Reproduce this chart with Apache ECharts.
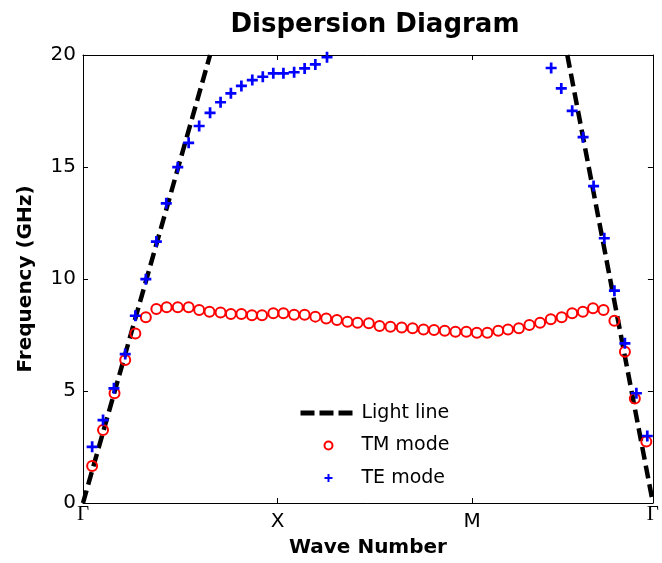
<!DOCTYPE html>
<html>
<head>
<meta charset="utf-8">
<script src="https://cdn.jsdelivr.net/npm/echarts@6/dist/echarts.min.js"></script>
<style>html,body{margin:0;padding:0;background:#fff;}#chart{width:662px;height:563px;}</style>
</head>
<body>
<div id="chart"></div>
<script>
// Wave-number positions (Γ=0, X=1, M=2, Γ=2.929) and frequencies (GHz)
const tickPositions = [0, 1, 2, 2.929];
const tickNames = ['Γ', 'X', 'M', 'Γ'];
const yTicks = [0, 5, 10, 15, 20];

const lightLeftK = [0, 0.653];
const lightLeftF = [0, 20];
const lightRightK = [2.489, 2.929];
const lightRightF = [20, 0];

const tmK = [0.047, 0.103, 0.162, 0.217, 0.269, 0.323, 0.377, 0.430, 0.487, 0.543,
  0.597, 0.650, 0.707, 0.760, 0.814, 0.868, 0.920, 0.978, 1.030, 1.085,
  1.139, 1.194, 1.250, 1.305, 1.359, 1.411, 1.469, 1.524, 1.580, 1.638,
  1.694, 1.750, 1.804, 1.859, 1.914, 1.970, 2.024, 2.078, 2.134, 2.184,
  2.240, 2.294, 2.349, 2.404, 2.460, 2.514, 2.569, 2.621, 2.675, 2.731,
  2.785, 2.836, 2.895];
const tmF = [1.65, 3.26, 4.90, 6.38, 7.57, 8.29, 8.66, 8.74, 8.74, 8.74,
  8.62, 8.54, 8.50, 8.44, 8.44, 8.38, 8.38, 8.47, 8.47, 8.40,
  8.40, 8.32, 8.24, 8.17, 8.09, 8.05, 8.02, 7.90, 7.87, 7.84,
  7.80, 7.75, 7.72, 7.69, 7.65, 7.65, 7.60, 7.60, 7.69, 7.75,
  7.80, 7.95, 8.05, 8.20, 8.29, 8.47, 8.54, 8.69, 8.62, 8.14,
  6.75, 4.67, 2.74];

const teK = [0.047, 0.103, 0.159, 0.217, 0.269, 0.323, 0.377, 0.428, 0.487, 0.543,
  0.597, 0.653, 0.707, 0.760, 0.814, 0.870, 0.924, 0.978, 1.030, 1.085,
  1.139, 1.194, 1.254,
  2.406, 2.458, 2.514, 2.570, 2.624, 2.679, 2.731, 2.785, 2.844, 2.900];
const teF = [2.51, 3.70, 5.12, 6.65, 8.36, 9.99, 11.67, 13.38, 14.99, 16.08,
  16.83, 17.42, 17.89, 18.29, 18.62, 18.88, 19.03, 19.18, 19.18, 19.23,
  19.40, 19.58, 19.90,
  19.42, 18.51, 17.51, 16.33, 14.15, 11.82, 9.48, 7.13, 4.90, 2.99];

const zip = (a, b) => a.map((v, i) => [v, b[i]]);
const FONT = 'DejaVu Sans';
const plusPath = 'path://M4,0H6.6V4H10.6V6.6H6.6V10.6H4V6.6H0V4H4Z';
const xMin = tickPositions[0], xMax = tickPositions[tickPositions.length - 1];
const nameAt = v => {
  let best = 0;
  tickPositions.forEach((p, i) => { if (Math.abs(p - v) < Math.abs(tickPositions[best] - v)) best = i; });
  return tickNames[best];
};

const chart = echarts.init(document.getElementById('chart'), null, {renderer: 'canvas'});
chart.setOption({
  animation: false,
  backgroundColor: '#ffffff',
  title: {
    text: 'Dispersion Diagram', left: 370, top: 7, textAlign: 'center',
    textStyle: {fontFamily: FONT, fontWeight: 'bold', fontSize: 26, color: '#000'}
  },
  grid: {left: 83, right: 2, top: 55, bottom: 60, containLabel: false},
  legend: {
    orient: 'vertical', left: 293, top: 397, itemWidth: 56, itemHeight: 8, itemGap: 10.5,
    data: [
      {name: 'Light line', itemStyle: {opacity: 0}, lineStyle: {width: 5, type: [14, 5], color: '#000'}},
      {name: 'TM mode'},
      {name: 'TE mode'}
    ],
    textStyle: {fontFamily: FONT, fontSize: 19, color: '#000', lineHeight: 22},
    selectedMode: false
  },
  xAxis: [
    {
      type: 'value', position: 'bottom', min: xMin, max: xMax,
      name: 'Wave Number', nameLocation: 'middle', nameGap: 35,
      nameTextStyle: {fontFamily: FONT, fontWeight: 'bold', fontSize: 20, color: '#000'},
      axisLine: {onZero: false, lineStyle: {color: '#000', width: 1}},
      axisTick: {inside: true, length: 5, customValues: tickPositions, lineStyle: {color: '#000'}},
      axisLabel: {customValues: tickPositions.slice(1, 3), formatter: nameAt, margin: 9,
        fontFamily: FONT, fontSize: 20, color: '#000'},
      splitLine: {show: false}
    },
    {
      type: 'value', position: 'top', min: xMin, max: xMax,
      axisLine: {onZero: false, lineStyle: {color: '#000', width: 1}},
      axisTick: {inside: true, length: 5, customValues: tickPositions, lineStyle: {color: '#000'}},
      axisLabel: {show: false}, splitLine: {show: false}
    },
    {
      type: 'value', position: 'bottom', min: xMin, max: xMax,
      axisLine: {show: false}, axisTick: {show: false}, splitLine: {show: false},
      axisLabel: {customValues: [tickPositions[0], tickPositions[3]], formatter: nameAt, margin: 1,
        fontFamily: 'Liberation Serif', fontSize: 21, color: '#000', showMinLabel: true, showMaxLabel: true}
    }
  ],
  yAxis: [
    {
      type: 'value', position: 'left', min: yTicks[0], max: yTicks[yTicks.length - 1], interval: 5,
      name: 'Frequency (GHz)', nameLocation: 'middle', nameGap: 47,
      nameTextStyle: {fontFamily: FONT, fontWeight: 'bold', fontSize: 20, color: '#000'},
      axisLine: {show: true, onZero: false, lineStyle: {color: '#000', width: 1}},
      axisTick: {show: true, inside: true, length: 5, lineStyle: {color: '#000'}},
      axisLabel: {margin: 7, fontFamily: FONT, fontSize: 20, color: '#000'},
      splitLine: {show: false}
    },
    {
      type: 'value', position: 'right', min: yTicks[0], max: yTicks[yTicks.length - 1], interval: 5,
      axisLine: {show: true, onZero: false, lineStyle: {color: '#000', width: 1}},
      axisTick: {show: true, inside: true, length: 5, lineStyle: {color: '#000'}},
      axisLabel: {show: false}, splitLine: {show: false}
    }
  ],
  series: [
    {
      name: 'Light line', type: 'line', data: zip(lightLeftK, lightLeftF), symbol: 'none',
      lineStyle: {color: '#000', width: 4.5, type: [13, 6]}, itemStyle: {color: '#000'}, z: 1
    },
    {
      name: 'Light line', type: 'line', data: zip(lightRightK, lightRightF), symbol: 'none',
      lineStyle: {color: '#000', width: 4.5, type: [13, 6]}, itemStyle: {color: '#000'}, z: 1
    },
    {
      name: 'TM mode', type: 'scatter', data: zip(tmK, tmF), symbol: 'circle', symbolSize: 10,
      symbolKeepAspect: true,
      itemStyle: {color: 'rgba(255,255,255,0)', borderColor: '#ff0000', borderWidth: 2, opacity: 1}, z: 3
    },
    {
      name: 'TE mode', type: 'scatter', data: zip(teK, teF), symbol: plusPath, symbolSize: 11,
      symbolKeepAspect: true,
      itemStyle: {color: '#0000ff', opacity: 1}, z: 4
    }
  ]
});
</script>
</body>
</html>
